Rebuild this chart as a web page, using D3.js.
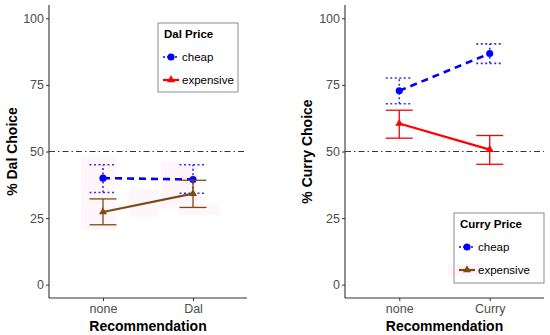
<!DOCTYPE html>
<meta charset="utf-8">
<title>Dal and Curry choice</title>
<style>
body { margin: 0; background: #fff; }
svg { font-family: "Liberation Sans", Arial, sans-serif; }
.tick text { fill: #4d4d4d; font-size: 12.5px; }
.axis path, .axis line { stroke: #333; }
.axtitle { font-weight: bold; font-size: 14px; fill: #000; }
.legtitle { font-weight: bold; font-size: 11.5px; }
.leglab { font-size: 11.5px; }
</style>
<body>
<script src="https://d3js.org/d3.v7.min.js"></script>
<script>

var width = 550, height = 335;

// tick values and categories
var yTicks = [0, 25, 50, 75, 100];
var dalCats = ["none", "Dal"];
var curryCats = ["none", "Curry"];
var prices = ["cheap", "expensive"];

// left panel: Dal choice (mean, lower, upper)
var dalCheap     = [40.0, 39.5];
var dalCheapLo   = [34.6, 34.3];
var dalCheapHi   = [45.0, 45.0];
var dalExp       = [27.3, 34.2];
var dalExpLo     = [22.5, 29.0];
var dalExpHi     = [32.2, 39.2];

// right panel: Curry choice
var curryCheap   = [72.8, 86.8];
var curryCheapLo = [67.9, 83.1];
var curryCheapHi = [77.6, 90.4];
var curryExp     = [60.5, 50.7];
var curryExpLo   = [55.0, 45.2];
var curryExpHi   = [65.5, 56.0];

var svg = d3.select("body").append("svg")
    .attr("width", width)
    .attr("height", height);

function panel(opt) {
  var x = d3.scalePoint().domain(opt.cats).range([opt.x0, opt.x1]).padding(0.6);
  var y = d3.scaleLinear().domain([-5, 105]).range([298, 5]);
  var g = svg.append("g");

  // faint pink highlight blotches (scan artefact)
  g.selectAll(".blot").data(opt.blots).enter().append("rect")
    .attr("x", d => x(opt.cats[d[0]]) + d[1])
    .attr("y", d => y(d[2]))
    .attr("width", d => d[3])
    .attr("height", d => y(d[4]) - y(d[2]))
    .attr("fill", "#fdeaf6").attr("opacity", 0.45);

  // reference line at 50
  g.append("line")
    .attr("x1", opt.x0).attr("x2", opt.x1)
    .attr("y1", y(50)).attr("y2", y(50))
    .attr("stroke", "#000").attr("stroke-width", 0.8)
    .attr("stroke-dasharray", "6,3,1.5,3");

  var series = [
    {key: "cheap", m: opt.cheap, lo: opt.cheapLo, hi: opt.cheapHi},
    {key: "expensive", m: opt.exp, lo: opt.expLo, hi: opt.expHi}
  ];

  series.forEach(function(s) {
    var isCheap = s.key == "cheap";
    var col = isCheap ? "#0000ff" : opt.expColor;
    var ebCol = isCheap ? "#3a2ee6" : opt.expColor;
    var pts = opt.cats.map((c, i) => ({c: c, m: s.m[i], lo: s.lo[i], hi: s.hi[i]}));

    var eb = g.append("g");
    var eDash = isCheap ? "2,2.5" : null;
    var ew = isCheap ? 1.6 : 1.3;
    pts.forEach(function(p) {
      var cx = x(p.c);
      eb.append("line").attr("x1", cx).attr("x2", cx)
        .attr("y1", y(p.lo)).attr("y2", y(p.hi))
        .attr("stroke", ebCol).attr("stroke-width", ew).attr("stroke-dasharray", eDash);
      [p.lo, p.hi].forEach(function(v) {
        eb.append("line").attr("x1", cx - 13.5).attr("x2", cx + 13.5)
          .attr("y1", y(v)).attr("y2", y(v))
          .attr("stroke", ebCol).attr("stroke-width", ew).attr("stroke-dasharray", eDash);
      });
    });

    g.append("path")
      .datum(pts)
      .attr("d", d3.line().x(d => x(d.c)).y(d => y(d.m)))
      .attr("fill", "none")
      .attr("stroke", col)
      .attr("stroke-width", isCheap ? 2.6 : 2.2)
      .attr("stroke-dasharray", isCheap ? "7,5" : null);

    g.selectAll(".pt-" + s.key).data(pts).enter().append("path")
      .attr("transform", d => "translate(" + x(d.c) + "," + y(d.m) + ")")
      .attr("d", d3.symbol().type(isCheap ? d3.symbolCircle : d3.symbolTriangle).size(isCheap ? 40 : 28))
      .attr("fill", col);
  });

  // axes
  var ya = g.append("g").attr("class", "axis")
    .attr("transform", "translate(" + opt.x0 + ",0)")
    .call(d3.axisLeft(y).tickValues(yTicks).tickSize(3).tickPadding(2));
  ya.select(".domain").attr("d", "M0," + y(105) + "V" + 298).attr("stroke", "#333").attr("stroke-width", 1.1);

  var xa = g.append("g").attr("class", "axis")
    .attr("transform", "translate(0,298)")
    .call(d3.axisBottom(x).tickSize(3).tickPadding(3));
  xa.select(".domain").attr("d", "M" + opt.x0 + ",0H" + opt.x1).attr("stroke", "#333").attr("stroke-width", 1.1);

  g.append("text").attr("class", "axtitle")
    .attr("x", (opt.x0 + opt.x1) / 2).attr("y", 331)
    .attr("text-anchor", "middle").text("Recommendation");

  g.append("text").attr("class", "axtitle")
    .attr("transform", "translate(" + opt.ytx + "," + y(50) + ") rotate(-90)")
    .attr("text-anchor", "middle").text(opt.ytitle);

  // legend
  var L = opt.leg;
  var lg = g.append("g").attr("transform", "translate(" + L.x + "," + L.y + ")");
  if (L.blot) lg.append("rect").attr("x", -6).attr("y", 51).attr("width", 34).attr("height", 12)
    .attr("fill", "#fdeaf6").attr("opacity", 0.5);
  lg.append("rect").attr("width", L.w).attr("height", L.h)
    .attr("fill", "none").attr("stroke", "#8c8c8c").attr("stroke-width", 1);
  lg.append("text").attr("class", "legtitle").attr("x", 6).attr("y", 15).text(L.title);
  prices.forEach(function(p, i) {
    var ky = 34 + i * 23;
    var isCheap = p == "cheap";
    var col = isCheap ? "#0000ff" : L.expColor;
    lg.append("line").attr("x1", 5).attr("x2", 21).attr("y1", ky).attr("y2", ky)
      .attr("stroke", col).attr("stroke-width", isCheap ? 1.6 : 2.2)
      .attr("stroke-dasharray", isCheap ? "2,2" : null);
    lg.append("path").attr("transform", "translate(13," + ky + ")")
      .attr("d", d3.symbol().type(isCheap ? d3.symbolCircle : d3.symbolTriangle).size(isCheap ? 40 : 28))
      .attr("fill", col);
    lg.append("text").attr("class", "leglab").attr("x", 24).attr("y", ky + 4).text(p);
  });
}

panel({
  cats: dalCats, x0: 49, x1: 247, ytx: 17, ytitle: "% Dal Choice",
  cheap: dalCheap, cheapLo: dalCheapLo, cheapHi: dalCheapHi,
  exp: dalExp, expLo: dalExpLo, expHi: dalExpHi,
  expColor: "#7f4a14",
  blots: [[0, -22, 48, 34.5, 20.5], [0, 26, 36, 29, 25.5], [1, -32, 46, 36, 28.5], [1, -14, 30, 40.5, 26]],
  leg: {x: 158, y: 23, w: 80, h: 69, title: "Dal Price", expColor: "#ff0000"}
});

panel({
  cats: curryCats, x0: 345, x1: 544, ytx: 312, ytitle: "% Curry Choice",
  cheap: curryCheap, cheapLo: curryCheapLo, cheapHi: curryCheapHi,
  exp: curryExp, expLo: curryExpLo, expHi: curryExpHi,
  expColor: "#ff0000",
  blots: [],
  leg: {x: 454, y: 213, w: 90, h: 70, title: "Curry Price", expColor: "#7f4a14", blot: true}
});

</script>
</body>
</html>
